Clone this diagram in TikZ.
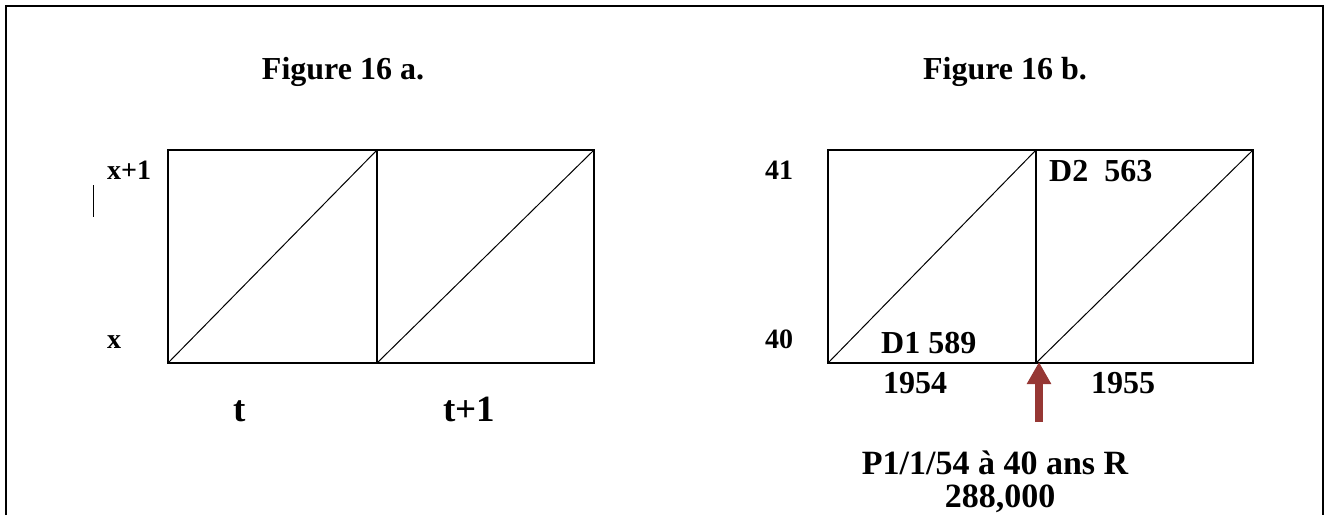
\documentclass[tikz,border=0pt]{standalone}
\usepackage{fontspec}
\setmainfont{Liberation Serif}
\usetikzlibrary{arrows.meta}
\definecolor{arrowred}{RGB}{150,55,52}
\tikzset{
  frame/.style={line width=2.4pt},
  cell/.style={line width=2.4pt},
  diag/.style={line width=1pt},
  lab/.style={font=\bfseries\fontsize{28}{32}\selectfont, inner sep=0pt},
  title/.style={font=\bfseries\fontsize{32}{38}\selectfont, inner sep=0pt, anchor=base},
  big/.style={font=\bfseries\fontsize{32}{36}\selectfont, inner sep=0pt},
  ptext/.style={font=\bfseries\fontsize{34}{40}\selectfont, inner sep=0pt, anchor=base},
  tlab/.style={font=\bfseries\fontsize{37}{42}\selectfont, inner sep=0pt, anchor=base},
}
\begin{document}
\begin{tikzpicture}[x=1pt,y=-1pt]
\useasboundingbox (0,0) rectangle (1329,515);
% frame (open at bottom)
\draw[frame] (6,515) -- (6,6) -- (1323,6) -- (1323,515);

% titles
\node[title] (ta) at (343,79) {Figure 16 a.};
\node[title] (tb) at (1005,79) {Figure 16 b.};

% left figure
\coordinate (a00) at (168,363);
\coordinate (a10) at (377,363);
\coordinate (a20) at (594,363);
\coordinate (a01) at (168,150);
\coordinate (a11) at (377,150);
\coordinate (a21) at (594,150);
\draw[cell] (a00) rectangle (a21);
\draw[cell] (a10) -- (a11);
\draw[diag] (a00) -- (a11);
\draw[diag] (a10) -- (a21);
\coordinate (m1) at (93,185);
\coordinate (m2) at (93,217);
\draw[line width=0.9pt] (m1) -- (m2);
\node[lab, anchor=base west] (xp1) at (107,179) {x+1};
\node[lab, anchor=base west] (xx) at (107,348) {x};
\node[tlab] (t0) at (240,421) {t};
\node[tlab] (t1) at (469,421) {t+1};

% right figure
\coordinate (b00) at (828,363);
\coordinate (b10) at (1036,363);
\coordinate (b20) at (1253,363);
\coordinate (b01) at (828,150);
\coordinate (b11) at (1036,150);
\coordinate (b21) at (1253,150);
\draw[cell] (b00) rectangle (b21);
\draw[cell] (b10) -- (b11);
\draw[diag] (b00) -- (b11);
\draw[diag] (b10) -- (b21);
\node[lab, anchor=base west] (a41) at (765,179) {41};
\node[lab, anchor=base west] (a40) at (765,348) {40};
\node[big, anchor=base west] (d1) at (881,353) {D1 589};
\node[big, anchor=base west] (d2) at (1049,181) {D2\ \ 563};
\node[big, anchor=base] (y54) at (915,393) {1954};
\node[big, anchor=base] (y55) at (1123,393) {1955};
\node[ptext] (p1) at (995,474) {P1/1/54 à 40 ans R};
\node[ptext] (p2) at (1000,507) {288,000};
\coordinate (arrowfoot) at (1039,422);
\coordinate (arrowtip) at (1039,362);
\draw[arrowred, line width=8pt, -{Triangle[width=23pt,length=22pt]}] (arrowfoot) -- (arrowtip);
\end{tikzpicture}
\end{document}
